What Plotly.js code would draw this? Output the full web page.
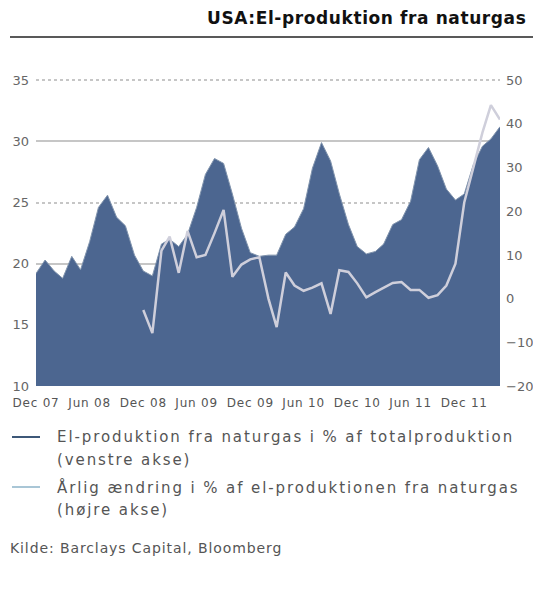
<!DOCTYPE html>
<html>
<head>
<meta charset="utf-8">
<script src="https://cdn.plot.ly/plotly-3.0.1.min.js"></script>
<style>
html,body{margin:0;padding:0;background:#fff;}
#chart{width:533px;height:591px;}
#chart g.annotation[data-index="0"] .annotation-text{letter-spacing:0.6px;}
#chart g.annotation[data-index="1"] .annotation-text,
#chart g.annotation[data-index="2"] .annotation-text,
#chart g.annotation[data-index="3"] .annotation-text,
#chart g.annotation[data-index="4"] .annotation-text{letter-spacing:1.9px;}
#chart g.annotation[data-index="5"] .annotation-text{letter-spacing:0.9px;}
#chart .xtick text{letter-spacing:0.8px;}
</style>
</head>
<body>
<div id="chart"></div>
<script>
// Months Dec 2007 - Apr 2012
const months = [
 "2007-12-01",
 "2008-01-01","2008-02-01","2008-03-01","2008-04-01","2008-05-01","2008-06-01",
 "2008-07-01","2008-08-01","2008-09-01","2008-10-01","2008-11-01","2008-12-01",
 "2009-01-01","2009-02-01","2009-03-01","2009-04-01","2009-05-01","2009-06-01",
 "2009-07-01","2009-08-01","2009-09-01","2009-10-01","2009-11-01","2009-12-01",
 "2010-01-01","2010-02-01","2010-03-01","2010-04-01","2010-05-01","2010-06-01",
 "2010-07-01","2010-08-01","2010-09-01","2010-10-01","2010-11-01","2010-12-01",
 "2011-01-01","2011-02-01","2011-03-01","2011-04-01","2011-05-01","2011-06-01",
 "2011-07-01","2011-08-01","2011-09-01","2011-10-01","2011-11-01","2011-12-01",
 "2012-01-01","2012-02-01","2012-03-01","2012-04-01"
];
// El-produktion fra naturgas i % af totalproduktion (venstre akse)
const gasShare = [
 19.2,
 20.3,19.4,18.8,20.6,19.5,21.8,24.6,25.6,23.8,23.1,20.7,19.4,
 19.0,21.6,22.0,21.4,22.4,24.6,27.3,28.6,28.2,25.7,22.9,20.9,
 20.6,20.7,20.7,22.4,23.0,24.5,27.8,29.9,28.4,25.7,23.2,21.4,
 20.8,21.0,21.6,23.2,23.6,25.1,28.5,29.5,28.0,26.1,25.2,25.7,
 28.1,29.6,30.2,31.2
];
// Årlig ændring i % (højre akse), Dec 2008 - Apr 2012
const yoyMonths = months.slice(12);
const yoyChange = [
 -2.6,
 -7.9,11.0,14.2,5.9,15.5,9.5,10.0,15.0,20.3,5.0,7.8,9.0,
 9.5,0.0,-6.5,6.0,3.0,1.8,2.5,3.5,-3.5,6.5,6.1,3.5,
 0.3,1.5,2.5,3.6,3.8,2.0,2.0,0.2,0.8,3.0,8.0,22.0,
 30.0,38.0,44.3,41.0
];
const tickDates = ["2007-12-01","2008-06-01","2008-12-01","2009-06-01","2009-12-01","2010-06-01","2010-12-01","2011-06-01","2011-12-01"];
const tickLabels = ["Dec 07","Jun 08","Dec 08","Jun 09","Dec 09","Jun 10","Dec 10","Jun 11","Dec 11"];
const leftTicks = [10,15,20,25,30,35];
const leftSolidGrid = [20,30];
const rightTicks = [-20,-10,0,10,20,30,40,50];

const titleText = "USA:El-produktion fra naturgas";
const legend1 = ["El-produktion fra naturgas i % af totalproduktion","(venstre akse)"];
const legend2 = ["Årlig ændring i % af el-produktionen fra naturgas","(højre akse)"];
const sourceText = "Kilde: Barclays Capital, Bloomberg";

// layout geometry (pixels)
const W = 533, H = 591, L = 36, R = 33, T = 79, B = 205;
const PW = W - L - R, PH = H - T - B;
const px = x => (x - L) / PW;
const py = y => (H - B - y) / PH;

const FONT = "DejaVu Sans, Verdana, sans-serif";

const traces = [
 {
  x: months, y: gasShare, type: "scatter", mode: "lines",
  fill: "tozeroy", fillcolor: "#4c6690",
  line: {color: "#8194ad", width: 1}, yaxis: "y", showlegend: false,
  hoverinfo: "skip"
 },
 {
  x: yoyMonths, y: yoyChange, type: "scatter", mode: "lines",
  line: {color: "#cfcfdb", width: 2.5}, yaxis: "y2", showlegend: false,
  hoverinfo: "skip"
 }
];

function legendText(text, x, y, size) {
 return {text: text, xref: "paper", yref: "paper", x: px(x), y: py(y),
  xanchor: "left", yanchor: "middle", align: "left", showarrow: false,
  font: {family: FONT, size: size, color: "#555"}};
}

const annotations = [
 {text: "<b>" + titleText + "</b>", xref: "paper", yref: "paper", x: px(528), y: py(18),
  xanchor: "right", yanchor: "middle", align: "right", showarrow: false,
  font: {family: FONT, size: 17, color: "#111"}},
 legendText(legend1[0], 55, 437, 15),
 legendText(legend1[1], 55, 460, 15),
 legendText(legend2[0], 55, 487, 15),
 legendText(legend2[1], 55, 510, 15),
 legendText(sourceText, 8, 548, 14)
];

const shapes = [
 {type: "line", xref: "paper", yref: "paper", x0: px(10), x1: px(533), y0: py(37), y1: py(37),
  line: {color: "#222", width: 1.5}},
 {type: "line", xref: "paper", yref: "paper", x0: px(12), x1: px(40), y0: py(437), y1: py(437),
  line: {color: "#3d5878", width: 2}},
 {type: "line", xref: "paper", yref: "paper", x0: px(12), x1: px(40), y0: py(487), y1: py(487),
  line: {color: "#a9c6d6", width: 2}}
];

const layout = {
 width: W, height: H,
 margin: {l: L, r: R, t: T, b: B, pad: 0},
 paper_bgcolor: "#fff", plot_bgcolor: "#fff",
 showlegend: false,
 font: {family: FONT, color: "#666"},
 xaxis: {
  type: "date", range: ["2007-12-01", "2012-04-01"],
  tickmode: "array", tickvals: tickDates, ticktext: tickLabels, tickangle: 0,
  showgrid: false, zeroline: false, showline: false, ticks: "",
  tickfont: {family: FONT, size: 12, color: "#555"}, ticklabelstandoff: 8, fixedrange: true
 },
 yaxis: {
  range: [10, 35.1], tickmode: "array", tickvals: leftTicks,
  showgrid: true, gridcolor: "#c6c6c6", gridwidth: 2, griddash: "3px,3px",
  minor: {tickmode: "array", tickvals: leftSolidGrid, showgrid: true, gridcolor: "#c6c6c6", gridwidth: 2, griddash: "solid"},
  zeroline: false, showline: false, ticks: "",
  tickfont: {family: FONT, size: 13, color: "#666"}, ticklabelstandoff: 6
 },
 yaxis2: {
  range: [-20, 50.28], overlaying: "y", side: "right",
  tickmode: "array", tickvals: rightTicks,
  showgrid: false, zeroline: false, showline: false, ticks: "",
  tickfont: {family: FONT, size: 13, color: "#666"}, ticklabelstandoff: 5
 },
 annotations: annotations,
 shapes: shapes
};

Plotly.newPlot("chart", traces, layout, {staticPlot: true, displayModeBar: false});
</script>
</body>
</html>
